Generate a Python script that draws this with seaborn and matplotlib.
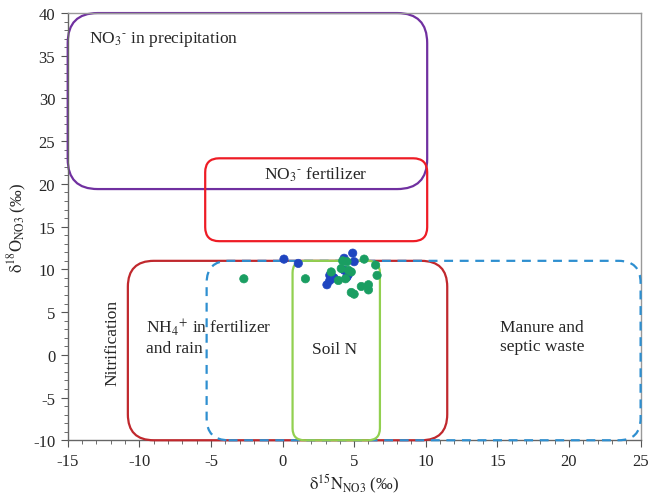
import pandas as pd
import matplotlib.pyplot as plt
import seaborn as sns
from matplotlib.patches import FancyBboxPatch
from matplotlib.ticker import MultipleLocator

# --- Data ---
blue_x = [0.1, 1.1, 4.9, 4.3, 5.0, 3.5, 4.3, 4.6, 3.6, 3.3, 3.1, 4.5, 3.3]
blue_y = [11.2, 10.7, 11.9, 11.3, 10.9, 9.1, 9.9, 9.4, 9.0, 8.7, 8.2, 9.1, 9.3]
green_x = [-2.7, 1.6, 4.5, 5.7, 6.5, 6.6, 4.1, 4.6, 3.4, 3.9, 4.8, 4.8, 5.0, 5.5, 6.0, 6.0, 4.4, 4.2]
green_y = [8.9, 8.9, 10.9, 11.2, 10.5, 9.3, 10.1, 9.9, 9.7, 8.7, 9.7, 7.3, 7.1, 8.0, 8.2, 7.6, 8.9, 11.0]

# source fields: (label, x0, x1, y0, y1)
box_names = ["precip", "fert", "nh4", "manure", "soil"]
box_x0 = [-15.0, -5.4, -10.8, -5.3, 0.7]
box_x1 = [10.1, 10.1, 11.5, 25.0, 6.8]
box_y0 = [19.4, 13.3, -10.0, -10.0, -10.0]
box_y1 = [40.0, 23.0, 11.0, 11.0, 11.0]

df = pd.DataFrame({
    "d15N": blue_x + green_x,
    "d18O": blue_y + green_y,
    "group": ["a"] * len(blue_x) + ["b"] * len(green_x),
})

# --- Style ---
sns.set_theme(style="white")
plt.rcParams["font.family"] = ["Liberation Serif", "DejaVu Serif"]
plt.rcParams["mathtext.fontset"] = "stix"
plt.rcParams["axes.unicode_minus"] = False

fig, ax = plt.subplots(figsize=(6.51, 5.02), dpi=100)
fig.subplots_adjust(left=0.104, right=0.984, top=0.972, bottom=0.121)

# box styles (colour, linestyle, corner radius in px, zorder)
styles = {
    "precip": ("#7030a0", "-", 30, 2),
    "fert": ("#ee1c25", "-", 14, 3),
    "nh4": ("#c0282d", "-", 26, 3),
    "manure": ("#2e8fd0", (0, (4, 3)), 22, 4),
    "soil": ("#92d050", "-", 12, 5),
}
px_x = 573.0 / 40.0
px_y = 427.0 / 50.0
for name, x0, x1, y0, y1 in zip(box_names, box_x0, box_x1, box_y0, box_y1):
    color, ls, r, z = styles[name]
    patch = FancyBboxPatch((x0, y0), x1 - x0, y1 - y0,
                           boxstyle=f"round,pad=0,rounding_size={r / px_x}",
                           mutation_aspect=px_x / px_y,
                           fill=False, edgecolor=color, linewidth=1.6,
                           linestyle=ls, zorder=z, clip_on=False)
    ax.add_patch(patch)

sns.scatterplot(data=df, x="d15N", y="d18O", hue="group",
                palette={"a": "#1f45c0", "b": "#1a9e62"},
                edgecolor=None, s=36, legend=False, ax=ax, zorder=6)

fs = 12.5
ax.text(-13.5, 36.6, r"NO$_3$$^{\text{-}}$ in precipitation", fontsize=fs)
ax.text(2.3, 21.2, r"NO$_3$$^{\text{-}}$ fertilizer", fontsize=fs, ha="center", va="center")
ax.text(-11.9, 1.5, "Nitrification", fontsize=fs, rotation=90, ha="center", va="center")
ax.text(-9.5, 2.2, r"NH$_4$$^{\text{+}}$ in fertilizer" + "\nand rain", fontsize=fs, va="center",
        linespacing=1.25)
ax.text(3.6, 0.7, "Soil N", fontsize=fs, ha="center", va="center")
ax.text(18.1, 2.2, "Manure and\nseptic waste", fontsize=fs, ha="center", va="center",
        linespacing=1.25)

ax.set_xlim(-15, 25)
ax.set_ylim(-10, 40)
ax.xaxis.set_major_locator(MultipleLocator(5))
ax.xaxis.set_minor_locator(MultipleLocator(1))
ax.yaxis.set_major_locator(MultipleLocator(5))
ax.yaxis.set_minor_locator(MultipleLocator(1))
ax.tick_params(axis="both", which="major", labelsize=12, length=5, width=0.8,
               color="#555555", direction="out", left=True, bottom=True, pad=4)
ax.tick_params(axis="both", which="minor", length=3, width=0.6,
               color="#555555", direction="out", left=True, bottom=True)
for side, sp in ax.spines.items():
    sp.set_color("#999999" if side in ("top", "right") else "#666666")
    sp.set_linewidth(1.0)

ax.set_xlabel(r"$\mathrm{\delta^{15}N_{NO3}}$ (‰)", fontsize=12, labelpad=2)
ax.set_ylabel(r"$\mathrm{\delta^{18}O_{NO3}}$ (‰)", fontsize=12, labelpad=3)

plt.savefig("out.png", dpi=100)
plt.close()
